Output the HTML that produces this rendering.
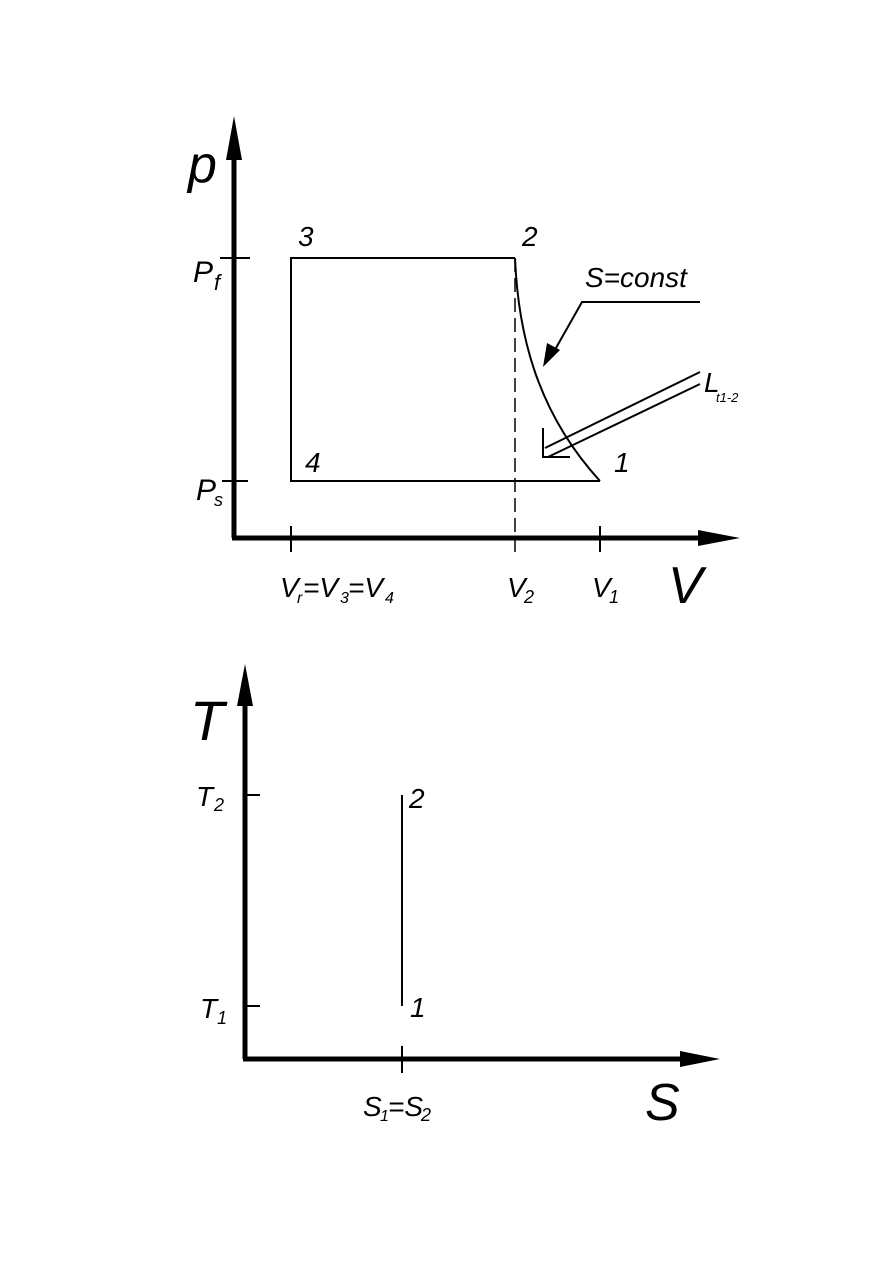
<!DOCTYPE html>
<html><head><style>body{margin:0;background:#fff}svg{display:block}text{font-family:"Liberation Sans",sans-serif;font-style:italic;fill:#000}</style></head>
<body>
<svg width="893" height="1263" viewBox="0 0 893 1263" xmlns="http://www.w3.org/2000/svg">
<g stroke="#000" fill="none">
<!-- top axes -->
<line x1="234" y1="538" x2="234" y2="150" stroke-width="5"/>
<polygon points="234,116 226,160 242,160" fill="#000" stroke="none"/>
<line x1="232" y1="538" x2="705" y2="538" stroke-width="5"/>
<polygon points="740,538 698,530 698,546" fill="#000" stroke="none"/>
<!-- cycle -->
<polyline points="515,258 291,258 291,481 600,481" stroke-width="2"/>
<path d="M515,258 C518,330 535,410 600,481" stroke-width="2"/>
<line x1="515" y1="258" x2="515" y2="556" stroke-width="1.5" stroke-dasharray="14,6"/>
<line x1="220" y1="258" x2="250" y2="258" stroke-width="2"/>
<line x1="222" y1="481" x2="248" y2="481" stroke-width="2"/>
<line x1="291" y1="526" x2="291" y2="552" stroke-width="2"/>
<line x1="600" y1="526" x2="600" y2="552" stroke-width="2"/>
<!-- S=const leader -->
<polyline points="700,302 582,302 552,355" stroke-width="2"/>
<polygon points="543,367 547,343 560,350" fill="#000" stroke="none"/>
<!-- L leader -->
<line x1="700" y1="372" x2="545" y2="448" stroke-width="2"/>
<line x1="700" y1="384" x2="548" y2="457" stroke-width="2"/>
<polyline points="543,428 543,457 570,457" stroke-width="2"/>
<!-- bottom axes -->
<line x1="245" y1="1059" x2="245" y2="700" stroke-width="5"/>
<polygon points="245,664 237,706 253,706" fill="#000" stroke="none"/>
<line x1="243" y1="1059" x2="690" y2="1059" stroke-width="5"/>
<polygon points="720,1059 680,1051 680,1067" fill="#000" stroke="none"/>
<line x1="245" y1="795" x2="260" y2="795" stroke-width="2"/>
<line x1="245" y1="1006" x2="260" y2="1006" stroke-width="2"/>
<line x1="402" y1="795" x2="402" y2="1006" stroke-width="2"/>
<line x1="402" y1="1046" x2="402" y2="1073" stroke-width="2"/>
</g>
<g>
<text x="188" y="182" font-size="52">p</text>
<text x="193" y="282" font-size="30">P</text><text x="214" y="290" font-size="22">f</text>
<text x="196" y="500" font-size="30">P</text><text x="214" y="506" font-size="18">s</text>
<text x="298" y="246" font-size="28">3</text>
<text x="522" y="246" font-size="28">2</text>
<text x="305" y="472" font-size="28">4</text>
<text x="614" y="472" font-size="28">1</text>
<text x="585" y="287" font-size="28">S=const</text>
<text x="704" y="392" font-size="28">L</text><text x="716" y="402" font-size="13">t1-2</text>
<text x="280" y="597" font-size="28">V</text><text x="297" y="603" font-size="16">r</text>
<text x="303" y="597" font-size="28">=V</text><text x="340" y="603" font-size="16">3</text>
<text x="348" y="597" font-size="28">=V</text><text x="385" y="603" font-size="16">4</text>
<text x="507" y="597" font-size="28">V</text><text x="524" y="603" font-size="18">2</text>
<text x="592" y="597" font-size="28">V</text><text x="609" y="603" font-size="18">1</text>
<text x="668" y="603" font-size="52">V</text>
<text x="190" y="740" font-size="56">T</text>
<text x="196" y="806" font-size="28">T</text><text x="214" y="811" font-size="18">2</text>
<text x="200" y="1018" font-size="28">T</text><text x="217" y="1024" font-size="18">1</text>
<text x="409" y="808" font-size="28">2</text>
<text x="410" y="1017" font-size="28">1</text>
<text x="363" y="1116" font-size="28">S</text><text x="380" y="1121" font-size="16">1</text>
<text x="388" y="1116" font-size="28">=S</text><text x="421" y="1121" font-size="18">2</text>
<text x="645" y="1120" font-size="52">S</text>
</g>
</svg>
</body></html>
